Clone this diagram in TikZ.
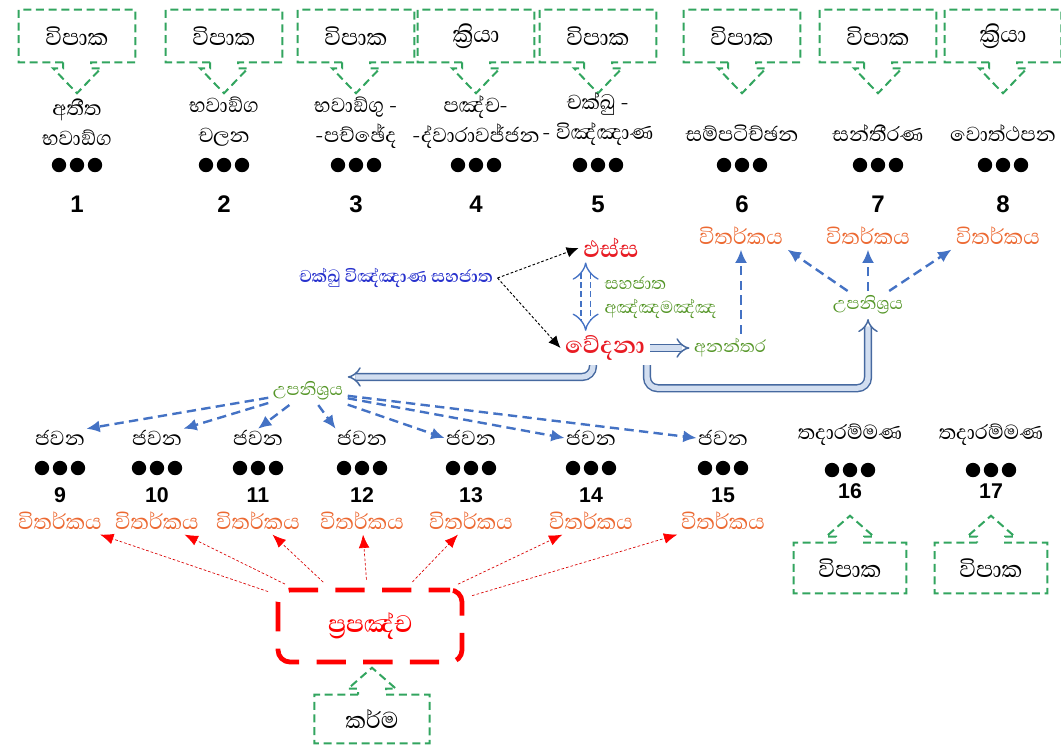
\documentclass[tikz,border=0pt]{standalone}
\usepackage{fontspec}
\setmainfont{Liberation Sans}
\newfontfamily\sifont[Script=Sinhala]{Abhaya Libre}
\usepackage{tikz}
\usetikzlibrary{arrows.meta, calc}

\definecolor{boxgreen}{RGB}{50,165,95}
\definecolor{arrowblue}{RGB}{68,114,196}
\definecolor{dbledge}{RGB}{70,105,160}
\definecolor{dblfill}{RGB}{210,222,240}
\definecolor{vitorange}{RGB}{236,105,50}
\definecolor{cittared}{RGB}{232,28,36}
\definecolor{paccgreen}{RGB}{85,150,40}
\definecolor{sahablue}{RGB}{40,50,205}

% callout pointing down from a box
\newcommand{\downcallout}[1]{%
  \draw[callout] ($(#1.south)+(-14,0)$) -- (#1.south west) -- (#1.north west)
    -- (#1.north east) -- (#1.south east) -- ($(#1.south)+(14,0)$)
    -- ++(0,6) -- ++(10,0) -- ($(#1.south)+(0,31)$) -- ++(-24,-25)
    -- ++(10,0) -- cycle;}
% callout pointing up from a box
\newcommand{\upcallout}[1]{%
  \draw[callout] ($(#1.north)+(-14,0)$) -- (#1.north west) -- (#1.south west)
    -- (#1.south east) -- (#1.north east) -- ($(#1.north)+(14,0)$)
    -- ++(0,-6) -- ++(10,0) -- ($(#1.north)+(0,-27)$) -- ++(-24,21)
    -- ++(10,0) -- cycle;}

\begin{document}
\begin{tikzpicture}[x=0.75pt, y=-0.75pt,
    vipbox/.style={minimum width=87pt, minimum height=39pt, inner sep=0pt,
        font=\sifont\fontsize{22}{24}\selectfont},
    callout/.style={draw=boxgreen, line width=1.5pt, dash pattern=on 6pt off 3.5pt},
    stagetxt/.style={font=\sifont\fontsize{19.5}{22.5}\selectfont, align=center, inner sep=1pt},
    num/.style={font=\bfseries\fontsize{18}{20}\selectfont},
    numsmall/.style={font=\bfseries\fontsize{16}{18}\selectfont},
    vitarka/.style={text=vitorange, font=\sifont\fontsize{20.5}{22}\selectfont},
    redbig/.style={text=cittared, font=\sifont\bfseries\fontsize{22.5}{24}\selectfont},
    greentxt/.style={text=paccgreen, font=\sifont\fontsize{16.5}{18}\selectfont},
    blarrow/.style={draw=arrowblue, line width=1.8pt, dash pattern=on 7pt off 4pt,
        -{Latex[length=10pt,width=9pt]}},
    rarrow/.style={draw=red!85!black, line width=0.5pt, dash pattern=on 2pt off 1.5pt,
        shorten <=6pt, -{Latex[length=10pt,width=8pt,color=red]}},
    karrow/.style={draw=black, line width=0.7pt, dash pattern=on 2pt off 1.5pt,
        -{Latex[length=9pt,width=8pt]}},
    dblarrow/.style={draw=dbledge, double=dblfill, line width=1.1pt,
        double distance=4pt, -{Implies}},
    dbldash/.style={draw=arrowblue, double=white, line width=1pt,
        double distance=6pt, dash pattern=on 4.5pt off 2.5pt, {Implies}-{Implies}},
    prapbox/.style={draw=red, line width=3.6pt, rounded corners=9pt,
        dash pattern=on 22pt off 13pt, dash phase=6pt,
        minimum width=138pt, minimum height=54pt,
        text=red, font=\sifont\bfseries\fontsize{23}{24}\selectfont}]

    \useasboundingbox (0,0) rectangle (1061,751);

    % Top row: citta 1-8
    \foreach \i/\x/\kind in {1/77/විපාක, 2/224/විපාක, 3/356/විපාක, 4/476/ක්^^^^200dරියා,
            5/598/විපාක, 6/742/විපාක, 7/878/විපාක, 8/1003/ක්^^^^200dරියා}{
        \node[vipbox] (kind\i) at (\x,36) {\kind};
        \downcallout{kind\i}
        \foreach \dx in {-18,0,18}
            \fill (\x+\dx,165) circle (5.4pt);
        \node[num] (num\i) at (\x,204) {\i};
    }

    % Names of the citta
    \foreach \i/\x/\y/\txt in {1/77/122/{අතීත\\භවාඞ්ග}, 2/224/122/{භවාඞ්ග\\චලන},
            3/356/123/{භවාඞ්ගු -\\-පච්ඡේද}, 4/476/122/{පඤ්ච-\\-ද්වාරාවජ්ජන},
            5/598/119/{චක්ඛු -\\- විඤ්ඤාණ}, 6/742/133/සම්පටිච්ඡන, 7/878/133/සන්තීරණ,
            8/1003/133/වොත්ථපන}{
        \node[stagetxt] (stage\i) at (\x,\y) {\txt};
    }

    % Phassa and vedana
    \node[redbig] (phassa) at (611,248) {ඵස්ස};
    \node[redbig] (vedana) at (605,348) {වේදනා};
    \node[text=sahablue, font=\sifont\bfseries\fontsize{16.5}{18}\selectfont]
        (sahajata) at (396,278) {චක්ඛු විඤ්ඤාණ සහජාත};
    \draw[karrow] (sahajata.east) -- (phassa.west);
    \draw[karrow] (sahajata.east) -- (vedana.west);
    \draw[dbldash] ([xshift=-19pt]phassa.south) -- ([xshift=-19pt]phassa.south |- vedana.north);
    \node[greentxt, align=left, anchor=west] (annamanna) at (600,298) {සහජාත\\අඤ්ඤමඤ්ඤ};

    % Anantara and upanissaya to vitakka 6-8
    \node[greentxt] (anantara) at (730,348) {අනන්තර};
    \draw[dblarrow] (vedana.east) -- (anantara.west);
    \foreach \i/\x in {6/741, 7/868, 8/998}
        \node[vitarka] (vit\i) at (\x,236) {විතර්කය};
    \draw[blarrow] (vit6 |- anantara.north) -- (vit6.south);
    \node[greentxt] (upr) at (868,305) {උපනිශ්^^^^200dරය};
    \draw[blarrow] (upr) -- (vit6.south east);
    \draw[blarrow] (upr) -- (vit7.south);
    \draw[blarrow] (upr) -- (vit8.south west);
    \draw[dblarrow, rounded corners=8pt] ($(vedana.south)+(42,0)$) -- ++(0,23) -| (upr.south);

    % Upanissaya to javana 9-15
    \node[greentxt] (upl) at (308,391) {උපනිශ්^^^^200dරය};
    \draw[dblarrow, rounded corners=8pt] ($(vedana.south)+(-12,0)$) |- (upl.north east);
    \foreach \i/\x in {9/60, 10/157, 11/258, 12/362, 13/471, 14/591, 15/723}{
        \node[stagetxt] (jav\i) at (\x,438) {ජවන};
        \foreach \dx in {-18,0,18}
            \fill (\x+\dx,468) circle (5.4pt);
        \node[numsmall] (num\i) at (\x,495) {\i};
        \node[vitarka] (vit\i) at (\x,521) {විතර්කය};
    }
    \foreach \i/\a in {9/north east, 10/north east, 11/north, 12/north west,
            13/west, 14/west, 15/west}
        \draw[blarrow] (upl) -- (jav\i.\a);

    % Tadarammana 16-17
    \foreach \i/\x in {16/850, 17/991}{
        \node[stagetxt] (tad\i) at (\x,435) {තදාරම්මණ};
        \foreach \dx in {-18,0,18}
            \fill (\x+\dx,470) circle (5.4pt);
        \node[numsmall] (num\i) at (\x,491) {\i};
        \node[vipbox, minimum width=84pt, minimum height=37.5pt] (kind\i) at (\x,568) {විපාක};
        \upcallout{kind\i}
    }

    % Prapanca and kamma
    \node[prapbox] (prap) at (370,626) {ප්^^^^200dරපඤ්ච};
    \foreach \i in {9,...,15}
        \draw[rarrow] (prap) -- (vit\i);
    \node[vipbox, minimum width=86pt, minimum height=36pt] (kamma) at (372,719) {කර්ම};
    \upcallout{kamma}

\end{tikzpicture}
\end{document}
